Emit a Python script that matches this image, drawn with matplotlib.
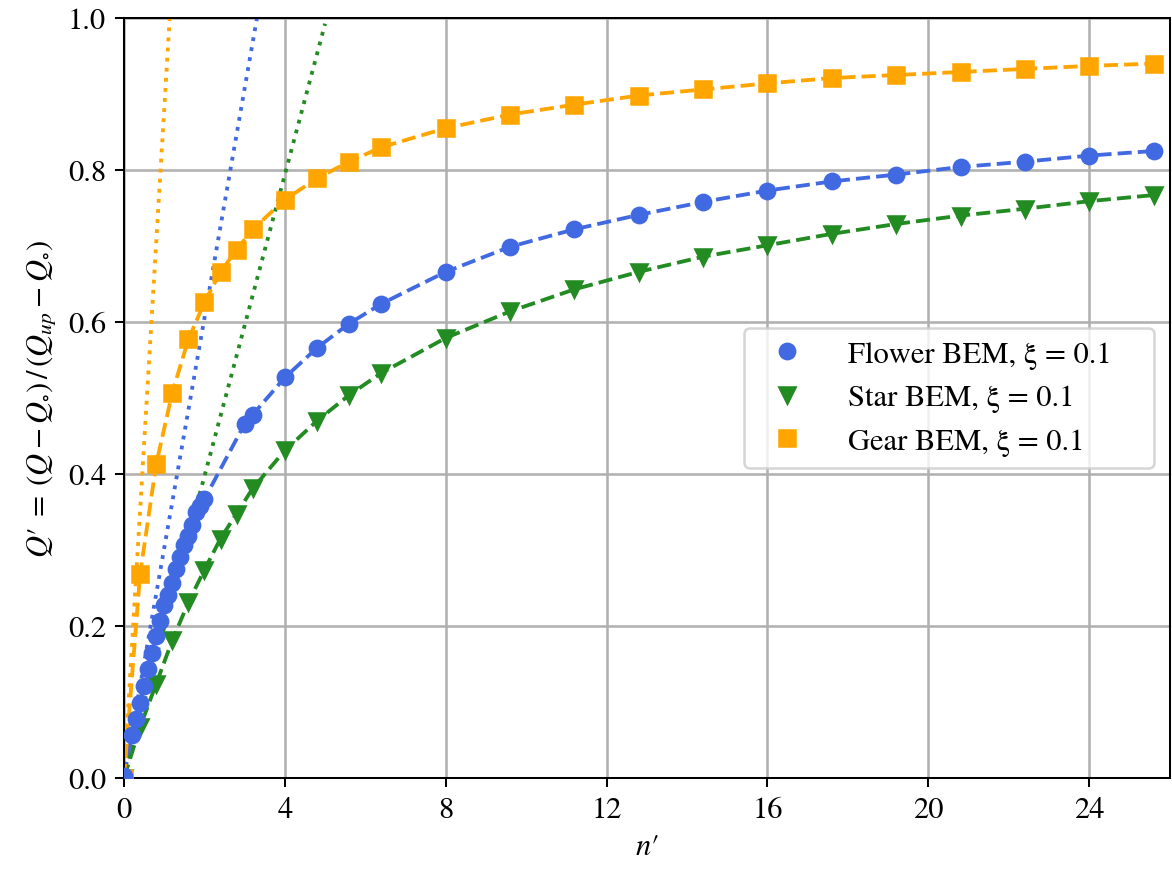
import numpy as np
import matplotlib
matplotlib.use('Agg')
import matplotlib.pyplot as plt

plt.rcParams['font.family'] = ['STIXGeneral', 'Liberation Serif', 'DejaVu Serif']
plt.rcParams['mathtext.fontset'] = 'stix'
plt.rcParams['font.size'] = 12

# Flower BEM
n_flower = [0, 0.2, 0.3, 0.4, 0.5, 0.6, 0.7, 0.8, 0.9, 1.0, 1.1, 1.2, 1.3, 1.4,
            1.5, 1.6, 1.7, 1.8, 1.9, 2.0, 3.0, 3.2, 4.0, 4.8, 5.6, 6.4, 8.0,
            9.6, 11.2, 12.8, 14.4, 16.0, 17.6, 19.2, 20.8, 22.4, 24.0, 25.6]
q_flower = [0.003, 0.057, 0.077, 0.099, 0.121, 0.144, 0.165, 0.187, 0.207, 0.227,
            0.241, 0.257, 0.275, 0.291, 0.306, 0.319, 0.333, 0.350, 0.358, 0.367,
            0.466, 0.478, 0.527, 0.566, 0.598, 0.624, 0.666, 0.699, 0.722, 0.741,
            0.758, 0.773, 0.785, 0.794, 0.804, 0.811, 0.819, 0.825]

# Star BEM
n_star = [0, 0.4, 0.8, 1.2, 1.6, 2.0, 2.4, 2.8, 3.2, 4.0, 4.8, 5.6, 6.4, 8.0,
          9.6, 11.2, 12.8, 14.4, 16.0, 17.6, 19.2, 20.8, 22.4, 24.0, 25.6]
q_star = [0.0, 0.067, 0.124, 0.181, 0.231, 0.274, 0.315, 0.348, 0.381, 0.431,
          0.470, 0.504, 0.533, 0.579, 0.614, 0.643, 0.666, 0.686, 0.701, 0.716,
          0.729, 0.740, 0.749, 0.759, 0.767]

# Gear BEM
n_gear = [0, 0.4, 0.8, 1.2, 1.6, 2.0, 2.4, 2.8, 3.2, 4.0, 4.8, 5.6, 6.4, 8.0,
          9.6, 11.2, 12.8, 14.4, 16.0, 17.6, 19.2, 20.8, 22.4, 24.0, 25.6]
q_gear = [0.0, 0.268, 0.413, 0.507, 0.577, 0.626, 0.666, 0.695, 0.722, 0.761,
          0.789, 0.811, 0.830, 0.855, 0.873, 0.886, 0.898, 0.906, 0.914, 0.921,
          0.925, 0.929, 0.933, 0.937, 0.940]

# initial slopes (dotted lines through origin)
slope_flower = 0.3025
slope_star = 0.1985
slope_gear = 0.880

c_flower = 'royalblue'
c_star = 'forestgreen'
c_gear = 'orange'

fig = plt.figure(figsize=(6.4, 4.778), dpi=183.125)
ax = fig.add_axes([0.1058, 0.1097, 0.8922, 0.8686])

n_lin = np.array([0, 5.0])
ax.plot(n_lin, slope_flower * n_lin, ':', color=c_flower, lw=1.5)
ax.plot(n_lin, slope_star * n_lin, ':', color=c_star, lw=1.5)
ax.plot(n_lin, slope_gear * n_lin, ':', color=c_gear, lw=1.5)

ax.plot(n_flower, q_flower, '--', color=c_flower, lw=1.5)
ax.plot(n_star, q_star, '--', color=c_star, lw=1.5)
ax.plot(n_gear, q_gear, '--', color=c_gear, lw=1.5)

pad = '\u2003'
ax.plot(n_flower, q_flower, 'o', color=c_flower, ms=6, zorder=4,
        label='Flower BEM, ξ = 0.1' + pad)
ax.plot(n_star, q_star, 'v', color=c_star, ms=6, zorder=3,
        label='Star BEM, ξ = 0.1' + pad)
ax.plot(n_gear, q_gear, 's', color=c_gear, ms=6, zorder=3,
        label='Gear BEM, ξ = 0.1' + pad)

ax.set_xlim(0, 26)
ax.set_ylim(0, 1.0)
ax.set_xticks([0, 4, 8, 12, 16, 20, 24])
ax.set_yticks([0.0, 0.2, 0.4, 0.6, 0.8, 1.0])
ax.grid(True, lw=1.0)
ax.set_axisbelow(True)
ax.set_xlabel("$n\u2032$")
ax.set_ylabel("$Q\u2032 \\;=\\; (Q - Q_{\\circ})\\,/\\,(Q_{up} - Q_{\\circ})$")
ax.legend(loc='center right', handletextpad=1.0)

fig.savefig('out.png', dpi=183.125)
